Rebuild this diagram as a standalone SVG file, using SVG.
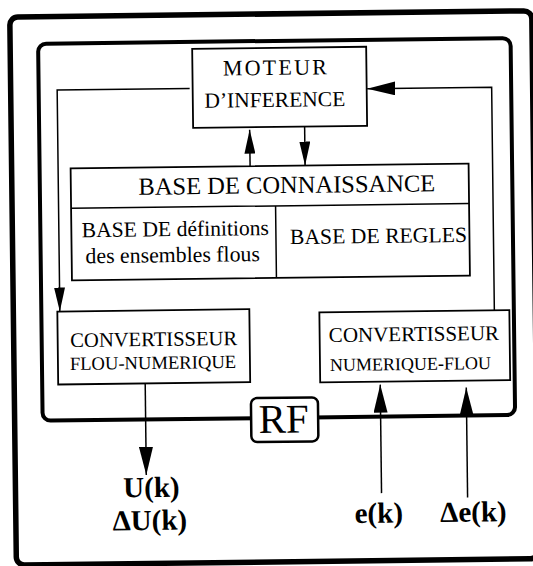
<svg xmlns="http://www.w3.org/2000/svg" width="533" height="566" viewBox="0 0 533 566">
<defs>
<style>
.frame{fill:none;stroke:#000}
.box{fill:#fff;stroke:#000;stroke-width:1.8}
.line{fill:none;stroke:#000;stroke-width:1.5}
text{font-family:"Liberation Serif","Times New Roman",serif;fill:#000;text-anchor:middle}
.lbl{font-weight:bold;font-size:29px}
</style>
<marker id="ah" markerUnits="userSpaceOnUse" markerWidth="24" markerHeight="11" viewBox="0 0 24 11" refX="24" refY="5.5" orient="auto">
<path d="M0,0 L24,5.5 L0,11 z" fill="#000"/>
</marker>
<marker id="ahL" markerUnits="userSpaceOnUse" markerWidth="28" markerHeight="14" viewBox="0 0 28 14" refX="28" refY="7" orient="auto">
<path d="M0,0 L28,7 L0,14 z" fill="#000"/>
</marker>
</defs>
<rect x="0" y="0" width="533" height="566" fill="#fff"/>
<g transform="rotate(-0.69 266 283)">
<g id="outer-frame">
<rect class="frame" x="13" y="14" width="522" height="548" rx="8" stroke-width="5.5"/>
</g>
<g id="rf-frame">
<rect class="frame" x="41" y="41" width="472.5" height="377" rx="8" stroke-width="4"/>
</g>
<g id="connectors">
<path class="line" d="M192 87.5 H59.5 V309" marker-end="url(#ah)"/>
<path class="line" d="M494 313 V90 H369.5" marker-end="url(#ahL)"/>
<path class="line" d="M251.5 166 V129.5" marker-end="url(#ah)"/>
<path class="line" d="M306.5 127 V166" marker-end="url(#ah)"/>
<path class="line" d="M144 382 V473.5" marker-end="url(#ahL)"/>
<path class="line" d="M379 494.5 V386" marker-end="url(#ahL)"/>
<path class="line" d="M465 500 V390" marker-end="url(#ahL)"/>
</g>
<g id="moteur">
<rect class="box" x="195" y="48" width="174" height="79"/>
<text x="277.5" y="75" font-size="22" textLength="104" lengthAdjust="spacing">MOTEUR</text>
<text x="277" y="107" font-size="21.5">D’INFERENCE</text>
</g>
<g id="base-connaissance">
<rect class="box" x="72" y="166" width="398" height="112"/>
<path class="line" d="M72 206 H470 M276.5 206 V278" stroke-width="1.8"/>
<text x="288" y="193.3" font-size="24.5">BASE DE CONNAISSANCE</text>
</g>
<g id="base-definitions">
<text x="176" y="235" font-size="21.6">BASE DE définitions</text>
<text x="173" y="261" font-size="21.8">des ensembles flous</text>
</g>
<g id="base-regles">
<text x="379" y="244.4" font-size="21.7">BASE DE REGLES</text>
</g>
<g id="conv-flou-num">
<rect class="box" x="57" y="309" width="192" height="73"/>
<text x="153" y="344.7" font-size="20.6">CONVERTISSEUR</text>
<text x="152" y="367.6" font-size="18.6">FLOU-NUMERIQUE</text>
</g>
<g id="conv-num-flou">
<rect class="box" x="319" y="313" width="190" height="70"/>
<text x="413.3" y="342.8" font-size="21">CONVERTISSEUR</text>
<text x="409.5" y="371.7" font-size="18">NUMERIQUE-FLOU</text>
</g>
<g id="rf">
<rect x="249.5" y="398" width="67" height="44" rx="6" fill="#fff" stroke="#000" stroke-width="2.5"/>
<text x="282" y="433" font-size="41">RF</text>
</g>
<g id="out-u">
<text class="lbl" x="149" y="495.6">U(k)</text>
<text class="lbl" x="147" y="528.6">ΔU(k)</text>
</g>
<g id="in-e">
<text class="lbl" x="376" y="524">e(k)</text>
</g>
<g id="in-de">
<text class="lbl" x="470.6" y="524">Δe(k)</text>
</g>
</g>
</svg>
